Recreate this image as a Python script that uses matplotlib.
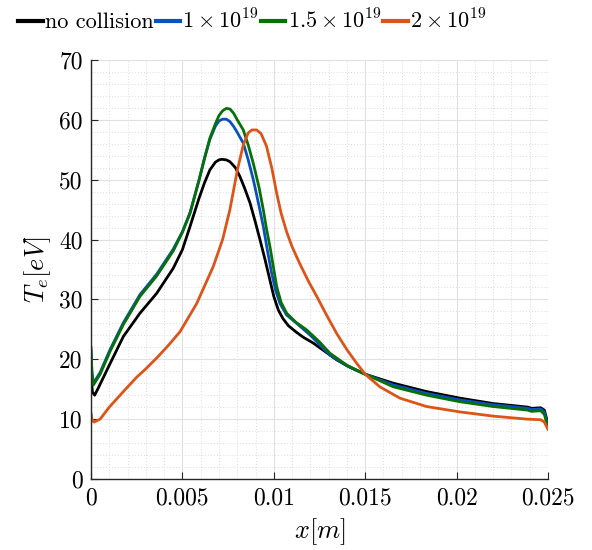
import matplotlib
matplotlib.use("Agg")
import matplotlib.pyplot as plt
from matplotlib.ticker import MultipleLocator

plt.rcParams['font.family'] = ['cmr10', 'DejaVu Serif']
plt.rcParams['mathtext.fontset'] = 'cm'
plt.rcParams['axes.formatter.use_mathtext'] = True

# ---- data ----
x_nc = [0, 0.00008, 0.0002, 0.0004, 0.001, 0.00177, 0.00268, 0.00359, 0.0045, 0.005,
        0.00542, 0.0059, 0.0062, 0.0065, 0.0068, 0.0070, 0.00715, 0.0074, 0.0076, 0.0079,
        0.00815, 0.0084, 0.0087, 0.0090, 0.00925, 0.0095, 0.00979, 0.0100, 0.01025,
        0.0105, 0.0108, 0.0112, 0.0116, 0.01216, 0.0128, 0.01344, 0.0142, 0.015,
        0.01654, 0.01836, 0.02019, 0.02201, 0.0239, 0.0241, 0.0246, 0.0248, 0.025]
y_nc = [17.0, 14.5, 14.0, 15.2, 19.0, 23.8, 27.7, 31.0, 35.2, 38.3,
        42.2, 46.8, 49.4, 51.6, 52.9, 53.3, 53.4, 53.3, 53.0, 52.0,
        50.5, 48.6, 46.1, 42.8, 39.9, 36.9, 33.2, 30.5, 28.2,
        26.8, 25.6, 24.6, 23.7, 22.7, 21.3, 19.9, 18.6, 17.5,
        16.0, 14.6, 13.5, 12.6, 12.0, 11.8, 11.9, 11.5, 9.2]

x_b = [0, 0.00005, 0.00013, 0.0005, 0.00104, 0.00177, 0.00268, 0.00359, 0.0045, 0.005,
       0.00542, 0.0059, 0.0062, 0.0065, 0.0068, 0.0070, 0.0072, 0.0074, 0.0076, 0.0078,
       0.0080, 0.00833, 0.0086, 0.00888, 0.0092, 0.00943, 0.00965, 0.00988, 0.0101,
       0.01034, 0.0107, 0.01125, 0.0120, 0.01307, 0.014, 0.015, 0.01654, 0.01836,
       0.02019, 0.02201, 0.0239, 0.0241, 0.0246, 0.0248, 0.025]
y_b = [22.0, 18.0, 16.0, 17.8, 21.6, 26.1, 30.8, 34.2, 38.4, 41.3,
       44.5, 49.8, 53.5, 56.7, 58.9, 59.8, 60.1, 60.1, 59.7, 58.9,
       57.9, 56.1, 53.3, 50.0, 45.5, 42.1, 38.2, 34.4, 31.5,
       29.3, 27.4, 26.0, 24.0, 20.7, 18.9, 17.5, 15.7, 14.3,
       13.2, 12.4, 11.8, 11.6, 11.7, 11.2, 8.8]

x_g = [0, 0.00005, 0.00013, 0.0005, 0.00104, 0.00177, 0.00268, 0.00359, 0.0045, 0.005,
       0.00542, 0.0059, 0.0062, 0.0065, 0.0068, 0.0070, 0.0072, 0.0074, 0.0076, 0.0078,
       0.0080, 0.00833, 0.0086, 0.00888, 0.0092, 0.00943, 0.0096, 0.00979, 0.0100,
       0.01016, 0.0104, 0.0107, 0.0112, 0.0118, 0.0125, 0.01307, 0.014, 0.015,
       0.01654, 0.01836, 0.02019, 0.02201, 0.0239, 0.0241, 0.0246, 0.0248, 0.025]
y_g = [21.5, 17.6, 15.7, 17.5, 21.3, 25.8, 30.5, 33.9, 38.1, 41.2,
       44.4, 49.8, 53.4, 56.9, 59.3, 60.7, 61.5, 61.9, 61.8, 61.1,
       60.0, 58.3, 55.8, 52.7, 48.6, 44.9, 41.8, 38.8, 35.0,
       32.1, 29.5, 27.7, 26.2, 24.9, 22.9, 21.0, 19.0, 17.5,
       15.4, 14.0, 12.9, 12.1, 11.5, 11.3, 11.4, 10.8, 8.5]

x_o = [0, 0.00005, 0.00016, 0.0005, 0.001, 0.00186, 0.0025, 0.003, 0.00359, 0.0042,
       0.00487, 0.00578, 0.00669, 0.0072, 0.0076, 0.0080, 0.00833, 0.0086, 0.0088,
       0.00906, 0.0093, 0.0096, 0.0099, 0.01016, 0.0104, 0.0107, 0.0110, 0.01143,
       0.0119, 0.01235, 0.0129, 0.01344, 0.0140, 0.01454, 0.015, 0.0158, 0.0169,
       0.01836, 0.02019, 0.02201, 0.02384, 0.0246, 0.0248, 0.025]
y_o = [11.0, 10.0, 9.5, 10.0, 12.0, 14.9, 17.0, 18.4, 20.2, 22.2,
       24.6, 29.3, 35.5, 40.0, 45.0, 51.5, 55.8, 57.8, 58.3,
       58.3, 57.7, 55.6, 51.8, 47.7, 44.4, 41.3, 38.8, 35.9,
       33.0, 30.5, 27.3, 24.3, 21.6, 19.3, 17.5, 15.4, 13.5,
       12.1, 11.2, 10.5, 10.0, 9.9, 9.5, 8.3]

labels = ['no collision', r'$1\times10^{19}$', r'$1.5\times10^{19}$', r'$2\times10^{19}$']
colors = ['#000000', '#0a50c0', '#087008', '#dd5419']
xticks = [0, 0.005, 0.01, 0.015, 0.02, 0.025]
xtick_labels = ['0', '0.005', '0.01', '0.015', '0.02', '0.025']
yticks = [0, 10, 20, 30, 40, 50, 60, 70]

fig = plt.figure(figsize=(5.92, 5.5), dpi=100)
ax = fig.add_axes([0.1537, 0.1291, 0.772, 0.762])

series = [(x_nc, y_nc), (x_b, y_b), (x_g, y_g), (x_o, y_o)]
for (xs, ys), lab, c in zip(series, labels, colors):
    ax.plot(xs, ys, color=c, lw=2.0, label=lab, solid_joinstyle='round')

ax.set_xlim(0, 0.025)
ax.set_ylim(0, 70)
ax.set_xticks(xticks)
ax.set_xticklabels(xtick_labels)
ax.set_yticks(yticks)
ax.set_yticklabels([str(v) for v in yticks])
ax.xaxis.set_minor_locator(MultipleLocator(0.001))
ax.yaxis.set_minor_locator(MultipleLocator(2))

ax.grid(True, which='major', color='#e1e1e1', lw=0.8, ls='-')
ax.grid(True, which='minor', color='#dcdcdc', lw=0.7, ls=(0, (1, 2)))
ax.set_axisbelow(True)

for s in ['top', 'right']:
    ax.spines[s].set_visible(False)
for s in ['left', 'bottom']:
    ax.spines[s].set_color('#262626')
    ax.spines[s].set_linewidth(1.0)

ax.tick_params(which='major', direction='in', length=5, width=0.8, color='#262626',
               labelsize=17, top=False, right=False, pad=6)
ax.tick_params(which='minor', length=0)

ax.set_xlabel(r'$x[m]$', fontsize=19, labelpad=5)
ax.set_ylabel(r'$T_e[eV]$', fontsize=19, labelpad=4)

leg = fig.legend(loc='upper left', bbox_to_anchor=(0.012, 1.005), ncol=4, frameon=False,
                 fontsize=16, handlelength=1.1, handletextpad=0.1, columnspacing=0.1,
                 borderaxespad=0.1)
for h in leg.get_lines():
    h.set_linewidth(3)

fig.savefig('out.png', dpi=100)
